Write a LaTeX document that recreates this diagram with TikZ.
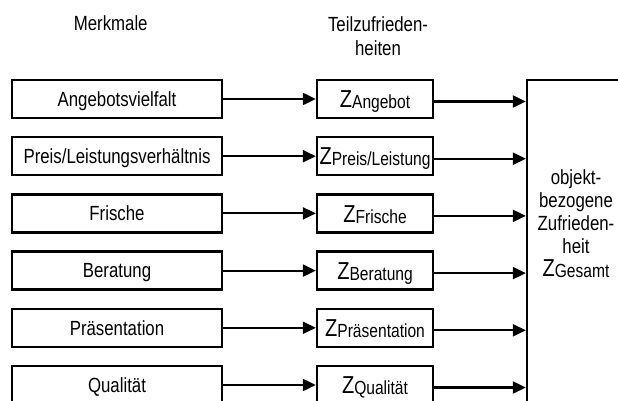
\documentclass[tikz,border=0pt]{standalone}
\usepackage{fontspec}
\setmainfont[FakeStretch=0.82]{Liberation Sans}
\usetikzlibrary{arrows.meta}
\newcommand\zterm[1]{{\fontsize{24.5}{23}\selectfont Z}\raisebox{-1pt}{\fontsize{19}{23}\selectfont #1}}
\begin{document}
\begin{tikzpicture}[x=1pt,y=1pt,
  txt/.style={font=\fontsize{20.5}{23}\selectfont},
  lbox/.style={draw, line width=2.3pt, minimum width=210pt, minimum height=38pt, inner sep=0pt, text height=14.7pt, text depth=0pt, txt},
  zbox/.style={draw, line width=2.3pt, minimum width=116pt, minimum height=38pt, inner sep=0pt, text height=17.5pt, text depth=0pt},
  bigbox/.style={draw, line width=2.3pt, minimum width=113pt, minimum height=340pt, inner sep=0pt},
  conn/.style={line width=2.1pt, -{Triangle[length=13pt,width=12pt]}}]
\useasboundingbox (0,0) rectangle (618,-401);
\clip (0,0) rectangle (618,-401);

% headers
\node[txt, anchor=base] (hm) at (110.7,-31) {Merkmale};
\node[align=center, font=\fontsize{20.5}{24}\selectfont] (ht) at (378,-36) {Teilzufrieden-\\heiten};

% left boxes
\node[lbox] (m1) at (117,-99) {Angebotsvielfalt};
\node[lbox] (m2) at (117,-156.2) {Preis/Leistungsverhältnis};
\node[lbox] (m3) at (117,-213.4) {Frische};
\node[lbox] (m4) at (117,-270.6) {Beratung};
\node[lbox] (m5) at (117,-327.8) {Präsentation};
\node[lbox] (m6) at (117,-385) {Qualität};

% middle boxes
\node[zbox] (z1) at (375,-99) {\zterm{Angebot}};
\node[zbox] (z2) at (375,-156.2) {\zterm{Preis/Leistung}};
\node[zbox] (z3) at (375,-213.4) {\zterm{Frische}};
\node[zbox] (z4) at (375,-270.6) {\zterm{Beratung}};
\node[zbox] (z5) at (375,-327.8) {\zterm{Präsentation}};
\node[zbox] (z6) at (375,-385) {\zterm{Qualität}};

% big box
\node[bigbox] (ges) at (583.5,-250) {};
\node[txt, align=center] (gt) at (576,-224) {objekt-\\bezogene\\Zufrieden-\\heit\\\zterm{Gesamt}};

% connectors
\foreach \i in {1,...,6}{
  \draw[conn] (m\i.east) -- (z\i.west);
  \draw[conn] ([yshift=-2.5pt]z\i.east) -- ([yshift=-2.5pt]z\i.east -| ges.west);
}
\end{tikzpicture}
\end{document}
